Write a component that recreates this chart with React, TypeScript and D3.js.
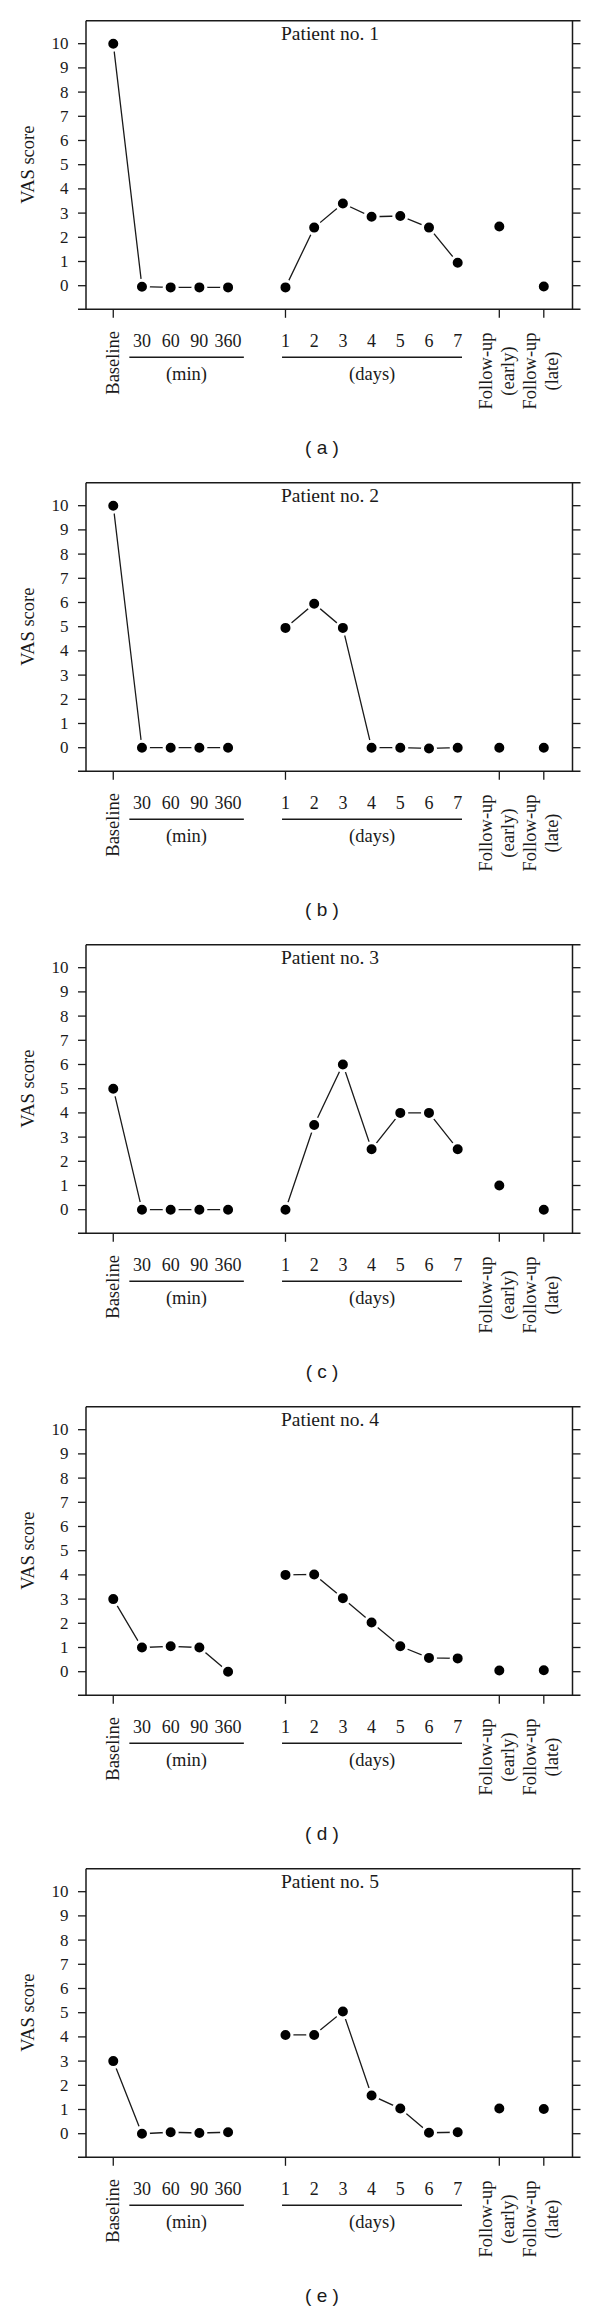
import React from "react";
import * as d3 from "d3";

// ---- data ----
const categories = ["Baseline", "30", "60", "90", "360", "1", "2", "3", "4", "5", "6", "7", "Follow-up (early)", "Follow-up (late)"];
const slots = [0, 1, 2, 3, 4, 6, 7, 8, 9, 10, 11, 12, 13.45, 15];
const minuteLabels = ["30", "60", "90", "360"];
const dayLabels = ["1", "2", "3", "4", "5", "6", "7"];
const yTicks = [0, 1, 2, 3, 4, 5, 6, 7, 8, 9, 10];
const titles = ["Patient no. 1", "Patient no. 2", "Patient no. 3", "Patient no. 4", "Patient no. 5"];
const captions = ["( a )", "( b )", "( c )", "( d )", "( e )"];

const patient1 = [10, -0.04, -0.07, -0.07, -0.07, -0.07, 2.4, 3.4, 2.85, 2.88, 2.4, 0.95, 2.45, -0.03];
const patient2 = [10, 0, 0, 0, 0, 4.95, 5.95, 4.95, 0, 0, -0.03, 0, 0, 0];
const patient3 = [5, 0, 0, 0, 0, 0, 3.5, 6, 2.5, 4, 4, 2.5, 1, 0];
const patient4 = [3, 1, 1.05, 1, 0, 4, 4.02, 3.04, 2.03, 1.05, 0.57, 0.55, 0.05, 0.06];
const patient5 = [3, 0, 0.06, 0.03, 0.06, 4.08, 4.08, 5.05, 1.58, 1.04, 0.04, 0.06, 1.04, 1.02];
const patients = [patient1, patient2, patient3, patient4, patient5];

// connected groups (indices into categories)
const segments = [[0, 1, 2, 3, 4], [5, 6, 7, 8, 9, 10, 11]];

const W = 600;
const H = 2309;
const PANEL_H = 462;
const LEFT = 86;
const RIGHT = 572.5;
const TOP = 20.7;
const BOTTOM = 309.3;
const SERIF = "'Liberation Serif', 'Times New Roman', serif";
const SANS = "'Liberation Sans', Arial, sans-serif";
const INK = "#1a1a1a";

const x = d3.scaleLinear().domain([-0.95, 16]).range([LEFT, RIGHT]);
const y = d3.scaleLinear().domain([-0.975, 10.95]).range([BOTTOM, TOP]);

function Panel({ values, title, caption, offset }: { values: number[]; title: string; caption: string; offset: number }) {
  const line = d3
    .line<number>()
    .x((i) => x(slots[i]))
    .y((i) => y(values[i]));
  const xTickIdx = [0, 5, 12, 13];
  const axisY = BOTTOM;
  const labelY = 347;
  return (
    <g transform={`translate(0,${offset})`}>
      {/* frame */}
      <line x1={LEFT} x2={RIGHT + 8} y1={TOP} y2={TOP} stroke={INK} strokeWidth={1.5} />
      <line x1={LEFT - 8} x2={RIGHT + 8} y1={axisY} y2={axisY} stroke={INK} strokeWidth={1.5} />
      <line x1={LEFT} x2={LEFT} y1={TOP} y2={axisY} stroke={INK} strokeWidth={1.5} />
      <line x1={RIGHT} x2={RIGHT} y1={TOP} y2={axisY} stroke={INK} strokeWidth={1.5} />
      {/* y ticks */}
      {yTicks.map((t) => (
        <g key={t}>
          <line x1={LEFT - 8} x2={LEFT} y1={y(t)} y2={y(t)} stroke={INK} strokeWidth={1.3} />
          <line x1={RIGHT} x2={RIGHT + 8} y1={y(t)} y2={y(t)} stroke={INK} strokeWidth={1.3} />
          <text x={68.5} y={y(t)} textAnchor="end" dominantBaseline="central" fontFamily={SERIF} fontSize={17} fill={INK}>
            {t}
          </text>
        </g>
      ))}
      <text
        transform={`translate(28,${(y(0) + y(10)) / 2}) rotate(-90)`}
        textAnchor="middle"
        dominantBaseline="central"
        fontFamily={SERIF}
        fontSize={18.5}
        fill={INK}
      >
        VAS score
      </text>
      <text x={330} y={40} textAnchor="middle" fontFamily={SERIF} fontSize={19.5} fill={INK}>
        {title}
      </text>
      {/* x ticks */}
      {xTickIdx.map((i) => (
        <line key={i} x1={x(slots[i])} x2={x(slots[i])} y1={axisY} y2={axisY + 8.5} stroke={INK} strokeWidth={1.3} />
      ))}
      {/* x labels */}
      <text
        transform={`translate(${x(slots[0])},331) rotate(-90)`}
        textAnchor="end"
        dominantBaseline="central"
        fontFamily={SERIF}
        fontSize={18.5}
        fill={INK}
      >
        {categories[0]}
      </text>
      {minuteLabels.map((m, k) => (
        <text key={m} x={x(slots[1 + k])} y={labelY} textAnchor="middle" fontFamily={SERIF} fontSize={18} fill={INK}>
          {m}
        </text>
      ))}
      {dayLabels.map((d, k) => (
        <text key={d} x={x(slots[5 + k])} y={labelY} textAnchor="middle" fontFamily={SERIF} fontSize={18} fill={INK}>
          {d}
        </text>
      ))}
      <line x1={x(0.56)} x2={x(4.55)} y1={357.3} y2={357.3} stroke={INK} strokeWidth={1.5} />
      <line x1={x(5.88)} x2={x(12.15)} y1={357.3} y2={357.3} stroke={INK} strokeWidth={1.5} />
      <text x={x(2.55)} y={380} textAnchor="middle" fontFamily={SERIF} fontSize={18.5} fill={INK}>
        (min)
      </text>
      <text x={x(9.02)} y={380} textAnchor="middle" fontFamily={SERIF} fontSize={18.5} fill={INK}>
        (days)
      </text>
      {[12, 13].map((i) => {
        const parts = categories[i].split(" ");
        const cx = x(slots[i]);
        return (
          <g key={i}>
            <text
              transform={`translate(${cx - 13.5},371) rotate(-90)`}
              textAnchor="middle"
              dominantBaseline="central"
              fontFamily={SERIF}
              fontSize={18.5}
              fill={INK}
            >
              {parts[0]}
            </text>
            <text
              transform={`translate(${cx + 8.5},371) rotate(-90)`}
              textAnchor="middle"
              dominantBaseline="central"
              fontFamily={SERIF}
              fontSize={18.5}
              fill={INK}
            >
              {parts[1]}
            </text>
          </g>
        );
      })}
      {/* data */}
      {segments.map((seg, k) => (
        <path key={k} d={line(seg) || ""} fill="none" stroke={INK} strokeWidth={1.3} />
      ))}
      {values.map((v, i) => (
        <circle key={i} cx={x(slots[i])} cy={y(v)} r={6.5} fill="#000" stroke="#fff" strokeWidth={3} />
      ))}
      <text x={322} y={447.5} textAnchor="middle" dominantBaseline="central" fontFamily={SANS} fontSize={19} fill={INK}>
        {caption}
      </text>
    </g>
  );
}

export default function App() {
  return (
    <svg width={W} height={H} style={{ position: "absolute", left: 0, top: 0, background: "#fff" }}>
      <rect width={W} height={H} fill="#fff" />
      {patients.map((p, k) => (
        <Panel key={k} values={p} title={titles[k]} caption={captions[k]} offset={k * PANEL_H} />
      ))}
    </svg>
  );
}
